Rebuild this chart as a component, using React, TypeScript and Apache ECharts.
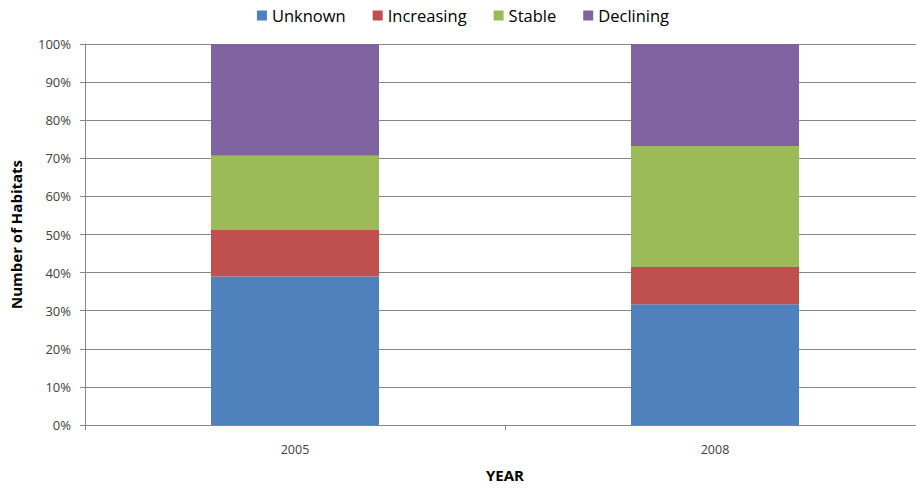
import React, { useEffect, useRef } from "react";
import * as echarts from "echarts";

const years = ["2005", "2008"];
const unknown = [39.0, 31.7];
const increasing = [12.2, 9.8];
const stable = [19.5, 31.7];
const declining = [29.3, 26.8];
const yTicks = [0, 10, 20, 30, 40, 50, 60, 70, 80, 90, 100];

const FONT = "'Open Sans', 'Liberation Sans', sans-serif";

export default function App() {
  const ref = useRef<HTMLDivElement>(null);
  useEffect(() => {
    if (!ref.current) return;
    const chart = echarts.init(ref.current, null, { renderer: "svg" });
    const mk = (name: string, data: number[], color: string) => ({
      name,
      type: "bar",
      stack: "total",
      data,
      barCategoryGap: "60%",
      itemStyle: { color },
    });
    chart.setOption({
      animation: false,
      textStyle: { fontFamily: FONT },
      legend: {
        top: 2,
        left: "center",
        itemWidth: 10,
        itemHeight: 10,
        itemGap: 27,
        icon: "rect",
        textStyle: { fontSize: 16.5, color: "#000", fontFamily: FONT },
        data: ["Unknown", "Increasing", "Stable", "Declining"],
      },
      grid: { left: 85, right: 1, top: 44, bottom: 64, outerBoundsMode: "none", containLabel: false },
      xAxis: {
        type: "category",
        data: years,
        name: "YEAR",
        nameLocation: "middle",
        nameGap: 42,
        nameTextStyle: { fontSize: 15, fontWeight: "bold", color: "#000", fontFamily: FONT },
        axisLine: { lineStyle: { color: "#868686" } },
        axisTick: { show: true, length: 5, lineStyle: { color: "#868686" } },
        axisLabel: { fontSize: 12.5, color: "#404040", margin: 18, fontFamily: FONT },
      },
      yAxis: {
        type: "value",
        min: yTicks[0],
        max: yTicks[yTicks.length - 1],
        interval: 10,
        name: "Number of Habitats",
        nameLocation: "middle",
        nameGap: 62,
        nameTextStyle: { fontSize: 15, fontWeight: "bold", color: "#000", fontFamily: FONT },
        axisLine: { show: true, lineStyle: { color: "#868686" } },
        axisTick: { show: true, length: 5, lineStyle: { color: "#868686" } },
        axisLabel: { fontSize: 13, color: "#404040", margin: 14, formatter: "{value}%", fontFamily: FONT },
        splitLine: { lineStyle: { color: "#868686" } },
      },
      series: [
        mk("Unknown", unknown, "#4F81BD"),
        mk("Increasing", increasing, "#C0504D"),
        mk("Stable", stable, "#9BBB59"),
        mk("Declining", declining, "#8064A2"),
      ],
    });
    return () => chart.dispose();
  }, []);
  return (
    <div
      ref={ref}
      style={{ position: "fixed", left: 0, top: 0, width: 926, height: 489, background: "#fff" }}
    />
  );
}
